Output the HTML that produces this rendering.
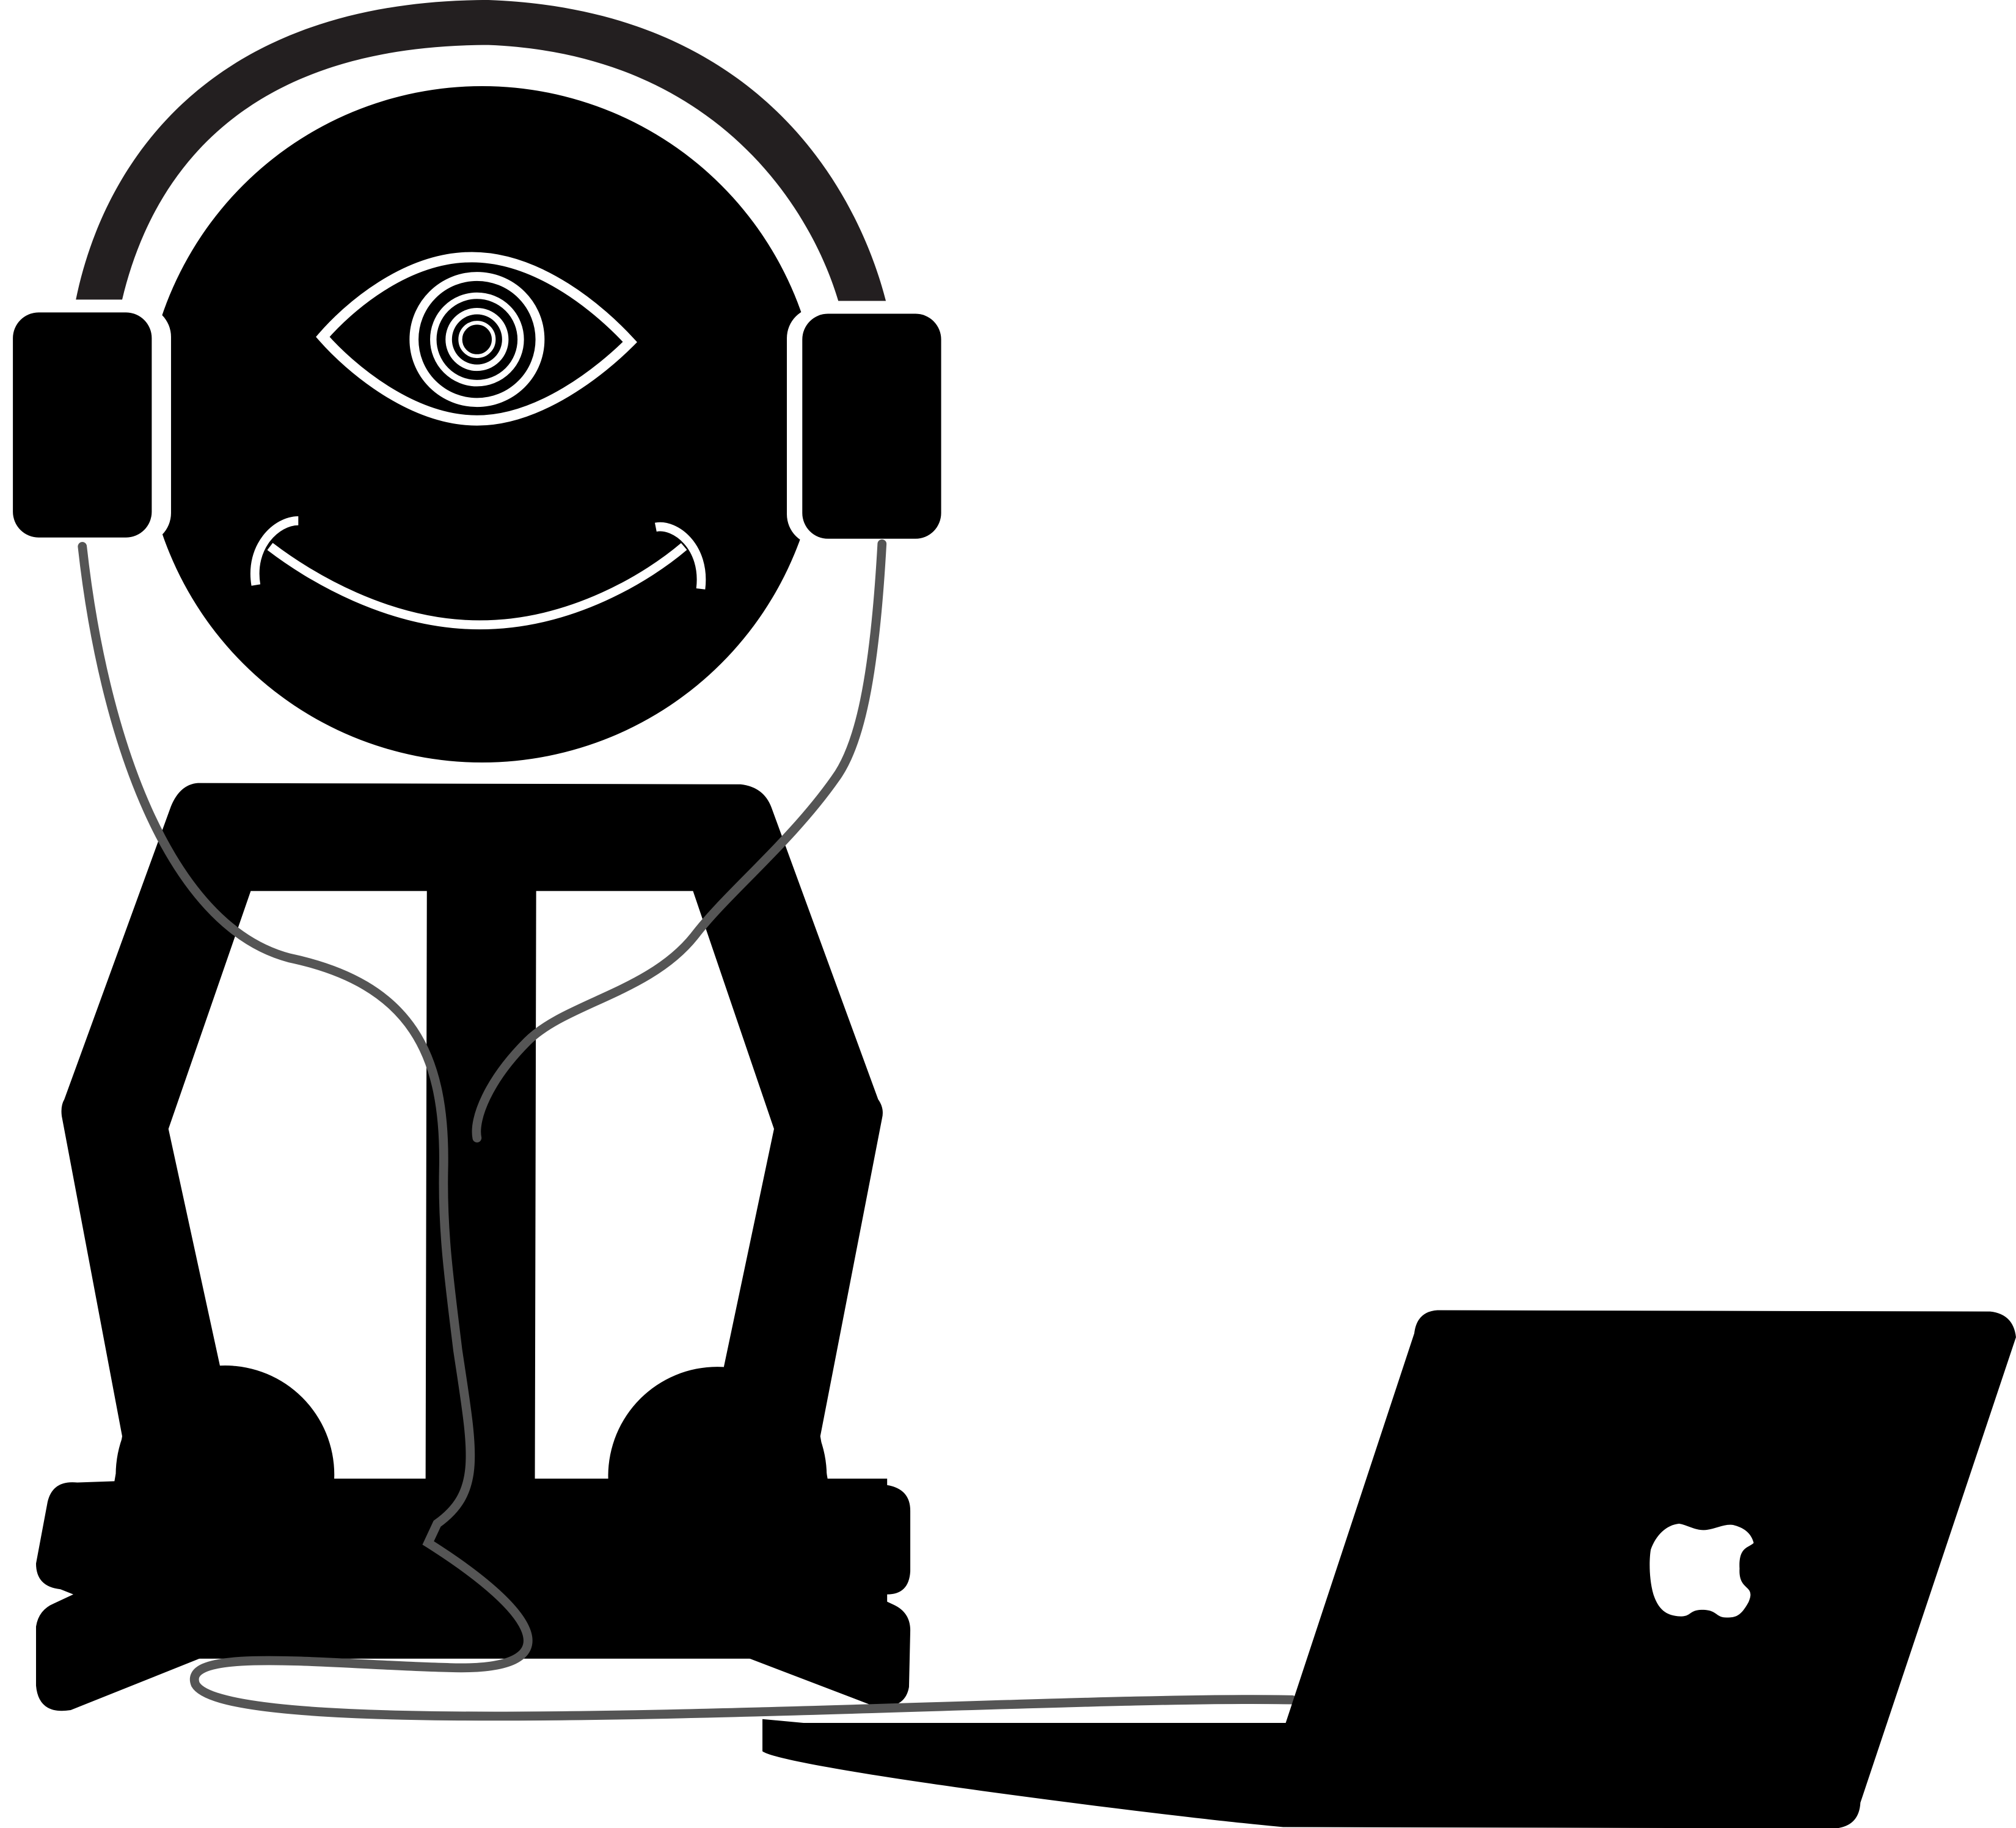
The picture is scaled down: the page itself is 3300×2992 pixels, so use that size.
<!DOCTYPE html>
<html><head><meta charset="utf-8"><style>html,body{margin:0;padding:0;background:#fff}svg{display:block}</style></head>
<body>
<svg width="3300" height="2992" viewBox="0 0 1568 1421.7" xmlns="http://www.w3.org/2000/svg">
<rect width="1568" height="1422" fill="#fff"/>
<path d="M59,233 C80,130 160,0 380,0 C600,8 670,160 689,234 L652,234 C630,160 555,42 380,35 C185,35 117,140 95,233 Z" fill="#231f20"/>
<circle cx="375" cy="330" r="263" fill="#000"/>
<rect x="5" y="238" width="128" height="185" rx="24" fill="#fff"/>
<rect x="10" y="243" width="108" height="175" rx="20" fill="#000"/>
<rect x="612" y="239" width="125" height="185" rx="24" fill="#fff"/>
<rect x="624" y="244" width="108" height="175" rx="20" fill="#000"/>
<g fill="none" stroke="#fff">
<path d="M251,262 C270,240 315,200 367,200 C420,200 468,242 490,266 C468,288 420,327 371,327 C320,327 272,286 251,262 Z" stroke-width="8"/>
<circle cx="371" cy="264" r="49" stroke-width="7" fill="#000"/>
<circle cx="371" cy="264" r="34" stroke-width="5"/>
<circle cx="371" cy="264" r="22" stroke-width="5"/>
<circle cx="371" cy="264" r="13" stroke-width="3"/>
<path d="M210,425 C240,448 302,486 373,486 C445,486 505,448 532,425" stroke-width="7"/>
<path d="M199,455 C194,425 215,405 232,405" stroke-width="7"/>
<path d="M545,458 C549,425 525,407 510,410" stroke-width="7"/>
</g>
<path d="M154,609 L576,610 Q594,612 600,628 L683,855 Q688,862 686,870 L638,1117 L644,1152 L690,1155 Q708,1158 708,1175 L708,1222 Q707,1240 690,1240 L680,1241 L695,1248 Q708,1254 708,1268 L707,1312 Q704,1330 680,1327 L578,1288 L160,1288 L55,1330 Q30,1334 28,1311 L28,1265 Q30,1252 42,1247 L57,1240 L47,1236 Q28,1234 28,1216 L37,1168 Q41,1151 60,1153 L89,1152 L95,1117 L48,868 Q47,860 50,855 L133,627 Q140,610 154,609 Z" fill="#000"/>
<path d="M195,693 L332,693 L331,1152 L175,1152 L171,1062 L131,878 Z" fill="#fff"/>
<path d="M417,693 L539,693 L602,878 L563,1063 L558,1152 L416,1152 Z" fill="#fff"/>
<circle cx="175" cy="1147" r="85" fill="#000"/>
<circle cx="558" cy="1148" r="85" fill="#000"/>
<rect x="90" y="1150" width="600" height="140" fill="#000"/>
<g fill="none" stroke="#555" stroke-width="7" stroke-linecap="round">
<path d="M64,425 C80,570 130,720 225,745 C320,765 347,820 345,910 C344,960 350,1000 356,1050 C368,1130 375,1160 340,1185 L333,1200 C420,1255 445,1300 350,1297 C260,1295 140,1280 152,1310 C180,1360 800,1318 1005,1322"/>
<path d="M686,423 C680,530 668,580 650,605 C615,655 565,695 540,728 C505,772 440,780 410,810 C380,840 368,870 371,885"/>
</g>
<path d="M1100,1037 Q1102,1020 1118,1019 L1548,1020 Q1566,1022 1568,1040 L1447,1402 Q1446,1420 1428,1422 L998,1421 C900,1412 610,1375 593,1362 L593,1337 L625,1340 L1000,1340 Z" fill="#000"/>
<path d="M1325,1190 C1333,1190 1340,1185 1348,1186 C1356,1188 1362,1192 1364,1200 C1360,1204 1352,1203 1353,1220 C1352,1238 1366,1232 1360,1246 C1354,1257 1350,1258 1343,1258 C1334,1258 1336,1252 1324,1252 C1313,1252 1316,1258 1305,1257 C1296,1256 1290,1252 1286,1240 C1282,1226 1283,1210 1284,1205 C1288,1194 1296,1186 1306,1185 C1312,1186 1318,1190 1325,1190 Z" fill="#fff"/>
</svg>
</body></html>
